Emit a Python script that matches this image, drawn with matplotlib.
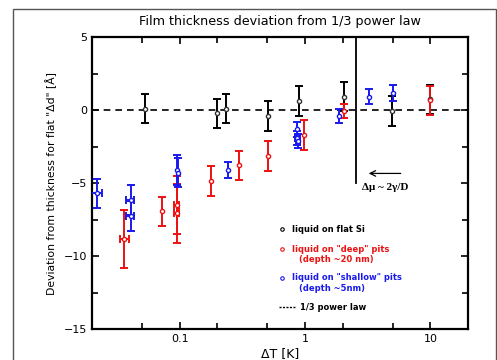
import numpy as np
import matplotlib
matplotlib.use("Agg")
import matplotlib.pyplot as plt
from matplotlib.patches import Rectangle
from matplotlib.ticker import FixedLocator, NullFormatter

# liquid on flat Si (black)
flat_x = [0.0525, 0.197, 0.233, 0.509, 0.895, 2.03, 4.94, 9.9]
flat_y = [0.1, -0.23, 0.1, -0.41, 0.62, 0.91, -0.07, 0.73]
flat_err = [1.0, 1.0, 1.0, 1.0, 1.0, 1.0, 1.0, 1.0]

# liquid on "deep" pits (red)
deep_x = [0.0363, 0.0727, 0.095, 0.095, 0.179, 0.296, 0.509, 0.99, 2.03, 9.9]
deep_y = [-8.84, -6.94, -6.5, -7.08, -4.86, -3.77, -3.15, -1.71, -0.05, 0.68]
deep_err = [2.0, 1.0, 2.0, 2.0, 1.0, 1.0, 1.0, 1.0, 0.5, 1.0]
deep_xerr = [0.003, 0.0, 0.004, 0.004, 0.0, 0.0, 0.0, 0.0, 0.0, 0.0]

# liquid on "shallow" pits (blue)
shallow_x = [0.0218, 0.0406, 0.0406, 0.095, 0.097, 0.241, 0.86, 0.87, 0.88, 1.88, 3.25, 4.99]
shallow_y = [-5.71, -6.16, -7.26, -4.1, -4.3, -4.11, -1.32, -1.9, -2.12, -0.41, 0.91, 1.19]
shallow_err = [1.0, 1.0, 1.0, 1.0, 1.0, 0.53, 0.5, 0.5, 0.5, 0.48, 0.5, 0.55]
shallow_xerr = [0.0023, 0.003, 0.003, 0.0, 0.0, 0.0, 0.0, 0.04, 0.04, 0.0, 0.0, 0.0]

ann_x = 2.56

fig = plt.figure(figsize=(4.97, 3.6), dpi=100)
ax = fig.add_axes([0.185, 0.086, 0.757, 0.811])

# outer frame
fig.add_artist(Rectangle((13 / 497, -0.1), 483 / 497, 1.1 - 9 / 360, transform=fig.transFigure,
                         fill=False, lw=1.0, ec="#555555"))

ax.axhline(0, color="black", ls=(0, (4, 3)), lw=1.2, zorder=1)

eb = dict(fmt="o", ms=3.0, mfc="white", capsize=2.8, elinewidth=1.4, capthick=1.4, zorder=3)
ax.errorbar(flat_x, flat_y, yerr=flat_err, color="black", mec="#333333", **eb)
ax.errorbar(deep_x, deep_y, yerr=deep_err, xerr=deep_xerr, color="#ee1111", mec="#ee1111", **eb)
ax.errorbar(shallow_x, shallow_y, yerr=shallow_err, xerr=shallow_xerr, color="#1a1aee", mec="#1a1aee", **eb)

ax.plot([ann_x, ann_x], [-5, 5], color="black", lw=1.3, zorder=2)
ax.annotate("", xy=(3.06, -4.34), xytext=(6.1, -4.34),
            arrowprops=dict(arrowstyle="->", lw=0.9, color="black"))
ax.text(2.85, -5.3, "Δμ ~ 2γ/D", family="Liberation Serif", fontweight="bold",
        fontsize=8, va="center", ha="left")

ax.set_xscale("log")
ax.set_xlim(0.02, 20)
ax.set_ylim(-15, 5)
ax.xaxis.set_major_locator(FixedLocator([0.1, 1, 10]))
ax.set_xticklabels(["0.1", "1", "10"])
ax.xaxis.set_minor_locator(FixedLocator([0.05, 0.2, 0.5, 2, 5]))
ax.xaxis.set_minor_formatter(NullFormatter())
ax.set_yticks([-15, -10, -5, 0, 5])
ax.set_yticks([-12.5, -7.5, -2.5, 2.5], minor=True)
ax.tick_params(which="both", direction="in", top=True, right=True, labelsize=8, width=1.2)
ax.tick_params(which="major", length=5)
ax.tick_params(which="minor", length=4)
for s in ax.spines.values():
    s.set_linewidth(1.6)

ax.set_title("Film thickness deviation from 1/3 power law", fontsize=9.2, pad=9)
ax.set_xlabel("ΔT [K]", fontsize=9, labelpad=2)
ax.set_ylabel('Deviation from thickness for flat "Δd" [Å]', fontsize=7.8, labelpad=5)

# legend drawn as text
lx, tx, tx2 = 0.655, 0.787, 0.895
lg = dict(fontsize=6, fontweight="bold", va="center", ha="left")
ax.plot(lx, -8.15, "o", ms=2.5, mfc="none", mec="black", mew=0.8)
ax.text(tx, -8.15, "liquid on flat Si", color="black", **lg)
ax.plot(lx, -9.52, "o", ms=2.5, mfc="none", mec="#ee1111", mew=0.8)
ax.text(tx, -9.52, 'liquid on "deep" pits', color="#ee1111", **lg)
ax.text(tx2, -10.27, "(depth ~20 nm)", color="#ee1111", **lg)
ax.plot(lx, -11.5, "o", ms=2.5, mfc="none", mec="#1a1aee", mew=0.8)
ax.text(tx, -11.5, 'liquid on "shallow" pits', color="#1a1aee", **lg)
ax.text(tx2, -12.19, "(depth ~5nm)", color="#1a1aee", **lg)
ax.plot([0.62, 0.83], [-13.5, -13.5], color="black", ls=(0, (1.5, 1)), lw=1)
ax.text(0.91, -13.5, "1/3 power law", color="black", **lg)

fig.savefig("out.png", dpi=100)
